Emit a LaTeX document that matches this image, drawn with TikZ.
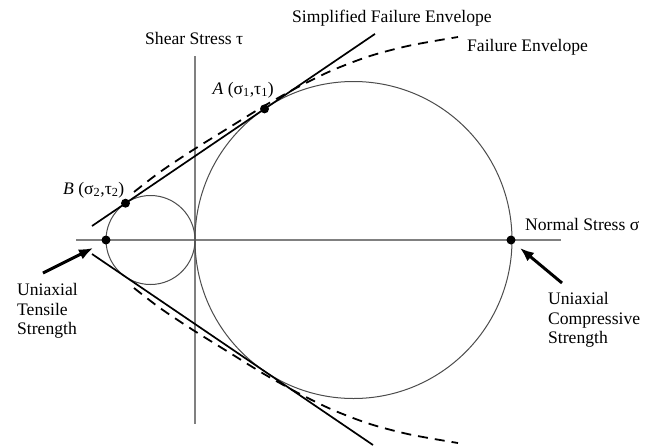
\documentclass[tikz,border=0pt]{standalone}
\usepackage{fontspec}
\setmainfont{Liberation Serif}
\usetikzlibrary{arrows.meta}

\begin{document}
\begin{tikzpicture}[x=1pt, y=-1pt,
    axis/.style={gray, line width=1.2pt},
    mohr/.style={black!70, line width=1pt},
    simple/.style={black, line width=1.7pt},
    envelope/.style={black, line width=1.8pt, dash pattern=on 10pt off 7pt},
    pointer/.style={-{Latex[length=14pt,width=11pt]}, line width=3pt},
    lbl/.style={font=\fontsize{17.6}{19.5}\selectfont, inner sep=0pt, align=left},
    dot/.style={circle, fill=black, inner sep=0pt, minimum size=9pt}]
    \useasboundingbox (0,0) rectangle (658,445);
    % axes
    \draw[axis] (76,240) -- (561,240);
    \draw[axis] (195,56) -- (195,424);
    % Mohr circles
    \draw[mohr] (150.5,240) circle[radius=44.5pt];
    \draw[mohr] (353.5,240) circle[radius=158.5pt];
    % simplified envelope (common tangents)
    \draw[simple] (92,226) -- (375,33.9);
    \draw[simple] (92,254) -- (373,445);
    % curved failure envelope
    \draw[envelope] plot[smooth] coordinates {(134,192) (160,172) (193,150) (230,127)
        (264,106) (300,86) (333,70) (370,56) (410,45.5) (458,37)};
    \draw[envelope] plot[smooth] coordinates {(134,288) (160,308) (193,330) (230,353)
        (264,374) (300,394) (333,410) (370,424) (410,434.5) (458,443)};
    % points
    \node[dot] (tens) at (106,240) {};
    \node[dot] (comp) at (511,240) {};
    \node[dot] (ptA) at (264.5,108.9) {};
    \node[dot] (ptB) at (125.5,203.2) {};
    % arrows
    \coordinate (tensTail) at (43,273);
    \coordinate (tensTip) at (93,248);
    \coordinate (compTail) at (562,283);
    \coordinate (compTip) at (520,248);
    \draw[pointer] (tensTail) -- (tensTip);
    \draw[pointer] (compTail) -- (compTip);
    % labels
    \node[lbl, anchor=west] (shear) at (145,38) {Shear Stress τ};
    \node[lbl, anchor=west] (simpl) at (292,18) {Simplified Failure Envelope};
    \node[lbl, anchor=west] (fail) at (467,47) {Failure Envelope};
    \node[lbl, anchor=east] (lblA) at (274,90) {\textit{A} (σ\textsubscript{1},τ\textsubscript{1})};
    \node[lbl, anchor=west] (lblB) at (63,190) {\textit{B} (σ\textsubscript{2},τ\textsubscript{2})};
    \node[lbl, anchor=west] (normal) at (525,224) {Normal Stress σ};
    \node[lbl, anchor=west] (tensLbl) at (17,311) {Uniaxial\\Tensile\\Strength};
    \node[lbl, anchor=west] (compLbl) at (548,320) {Uniaxial\\Compressive\\Strength};
\end{tikzpicture}
\end{document}
